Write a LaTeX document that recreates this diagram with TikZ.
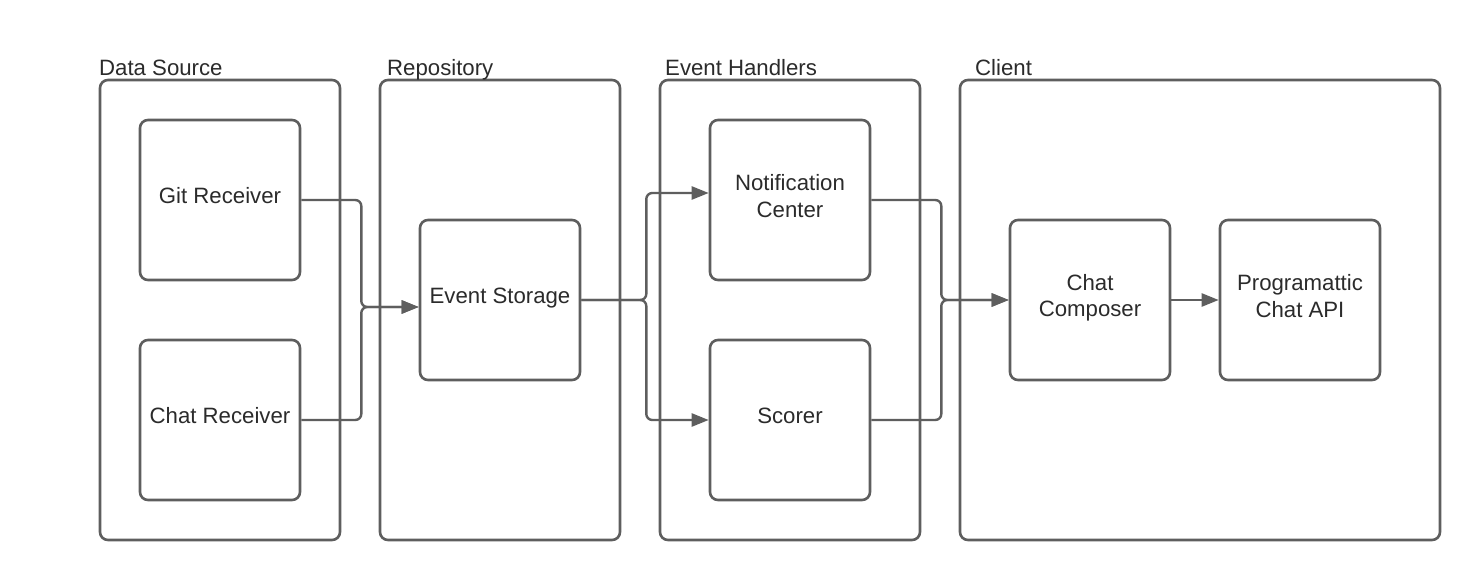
\documentclass[tikz,border=0pt]{standalone}
\usepackage{fontspec}
\setmainfont{Liberation Sans}
\usetikzlibrary{arrows.meta}
\definecolor{linegray}{HTML}{5E5E5E}
\definecolor{textgray}{HTML}{2B2B2B}
\newcommand{\dfont}{\fontsize{22.2}{26.5}\selectfont}
\tikzset{
  grp/.style={draw=linegray, line width=2.6pt, rounded corners=8pt, minimum width=240pt, minimum height=460pt, inner sep=0pt},
  comp/.style={draw=linegray, line width=2.6pt, rounded corners=8pt, minimum width=160pt, minimum height=160pt, inner sep=0pt},
  ctext/.style={inner sep=0pt, align=center, font=\dfont, text=textgray},
  grplabel/.style={anchor=base west, inner sep=0pt, font=\dfont, text=textgray},
  conn/.style={draw=linegray, line width=2.4pt, rounded corners=6pt, -{Triangle[length=17pt,width=13pt]}}
}
\begin{document}
\begin{tikzpicture}[x=1pt,y=-1pt]
\useasboundingbox[fill=white] (0,0) rectangle (1480,580);
% groups
\node[grp] (ds) at (220,310) {};
\node[grp] (repo) at (500,310) {};
\node[grp, minimum width=260pt] (eh) at (790,310) {};
\node[grp, minimum width=480pt] (client) at (1200,310) {};
\node[grplabel] (dsl) at (99,76) {Data Source};
\node[grplabel] (repol) at (387,76) {Repository};
\node[grplabel] (ehl) at (665,76) {Event Handlers};
\node[grplabel] (clientl) at (975,76) {Client};
% components
\node[comp] (git) at (220,200) {};
\node[comp] (chatr) at (220,420) {};
\node[comp] (es) at (500,300) {};
\node[comp] (nc) at (790,200) {};
\node[comp] (sc) at (790,420) {};
\node[comp] (cc) at (1090,300) {};
\node[comp] (api) at (1300,300) {};
\node[ctext] (gitt) at ([yshift=4pt]git.center) {Git Receiver};
\node[ctext] (chatrt) at ([yshift=4pt]chatr.center) {Chat Receiver};
\node[ctext] (est) at ([yshift=1.5pt]es.center) {Event Storage};
\node[ctext] (nct) at ([yshift=4pt]nc.center) {Notification\\Center};
\node[ctext] (sct) at ([yshift=4pt]sc.center) {Scorer};
\node[ctext] (cct) at ([yshift=2pt]cc.center) {Chat\\Composer};
\node[ctext] (apit) at ([yshift=4pt]api.center) {Programattic\\Chat API};
% connectors
\draw[conn] (git.east) -- ++(60,0) |- ([yshift=-7pt]es.west);
\draw[conn] (chatr.east) -- ++(60,0) |- ([yshift=-7pt]es.west);
\draw[conn] (es.east) -- ++(65,0) |- ([yshift=7pt]nc.west);
\draw[conn] (es.east) -- ++(65,0) |- (sc.west);
\draw[conn] (nc.east) -- ++(70,0) |- (cc.west);
\draw[conn] (sc.east) -- ++(70,0) |- (cc.west);
\draw[conn] (cc.east) -- (api.west);
\end{tikzpicture}
\end{document}
